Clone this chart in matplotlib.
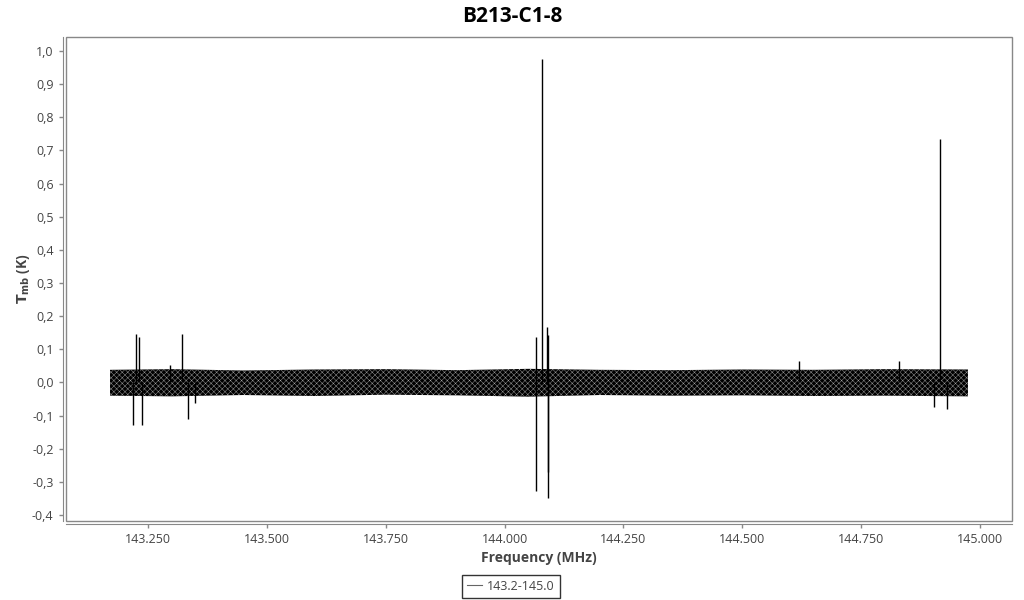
import matplotlib.pyplot as plt
from matplotlib.patches import Rectangle
import numpy as np

plt.rcParams['font.family'] = ['Open Sans', 'DejaVu Sans']
plt.rcParams['hatch.linewidth'] = 0.3

title = 'B213-C1-8'
series_label = '143.2-145.0'

# noise band of the spectrum, envelope (MHz, K)
band_freq = [143.17, 143.30, 143.45, 143.60, 143.75, 143.90, 144.05,
             144.20, 144.35, 144.50, 144.65, 144.80, 144.975]
band_upper = [0.038, 0.040, 0.036, 0.039, 0.040, 0.037, 0.041,
              0.038, 0.037, 0.039, 0.038, 0.040, 0.039]
band_lower = [-0.040, -0.042, -0.038, -0.041, -0.037, -0.039, -0.043,
              -0.038, -0.040, -0.039, -0.041, -0.040, -0.042]

# narrow lines / spikes above and below the noise
spike_freq = [143.219, 143.2254, 143.2304, 143.238, 143.296, 143.322,
              143.335, 143.3495, 144.067, 144.067, 144.079, 144.090,
              144.091, 144.092, 144.092, 144.619, 144.830, 144.903,
              144.916, 144.930]
spike_peak = [-0.128, 0.145, 0.137, -0.128, 0.053, 0.145,
              -0.110, -0.062, 0.137, -0.327, 0.975, 0.167,
              -0.270, 0.143, -0.350, 0.065, 0.065, -0.075,
              0.735, -0.080]

x_ticks = [143.25, 143.5, 143.75, 144.0, 144.25, 144.5, 144.75, 145.0]
y_ticks = [-0.4, -0.3, -0.2, -0.1, 0.0, 0.1, 0.2, 0.3, 0.4, 0.5,
           0.6, 0.7, 0.8, 0.9, 1.0]

fig = plt.figure(figsize=(10.24, 6), dpi=100)
ax = fig.add_axes([0.0645, 0.1317, 0.9235, 0.8066])

ax.fill_between(band_freq, band_lower, band_upper, facecolor='black',
                edgecolor='#aaaaaa', hatch='xxxxxx', linewidth=0)
ax.vlines(spike_freq, 0, spike_peak, color='black', linewidth=1)
ax.plot([], [], color='#666666', linewidth=0.8, label=series_label)

ax.set_xlim(143.0775, 145.067)
ax.set_ylim(-0.418, 1.042)
ax.set_xticks(x_ticks)
ax.set_xticklabels(['%.3f' % v for v in x_ticks])
ax.set_yticks(y_ticks)
ax.set_yticklabels([('%.1f' % v).replace('.', ',') for v in y_ticks])

# plot frame plus offset axis lines
ax.add_patch(Rectangle((0, 0), 1, 1, transform=ax.transAxes, fill=False,
                       edgecolor='#888888', linewidth=1, clip_on=False))
for s in ['top', 'right']:
    ax.spines[s].set_visible(False)
for s in ['left', 'bottom']:
    ax.spines[s].set_position(('outward', 2.5))
    ax.spines[s].set_color('#888888')
ax.tick_params(colors='#888888', labelcolor='#444444', labelsize=9,
               length=3, width=1)

fig.text(0.5, 0.972, title, fontsize=15, fontweight='bold',
         ha='center', va='center')
ax.set_xlabel('Frequency (MHz)', fontsize=10, fontweight='bold',
              color='#444444', labelpad=3)
ax.set_ylabel(r'$\mathbf{T_{mb}}$ (K)', fontsize=10, fontweight='bold',
              color='#444444', labelpad=0)

leg = ax.legend(loc='upper center', bbox_to_anchor=(0.4704, -0.098),
                frameon=True, fancybox=False, fontsize=9, handlelength=1.2,
                handletextpad=0.4, borderpad=0.4, labelcolor='#444444')
leg.get_frame().set_edgecolor('black')
leg.get_frame().set_linewidth(1)

fig.savefig('out.png', dpi=100)
